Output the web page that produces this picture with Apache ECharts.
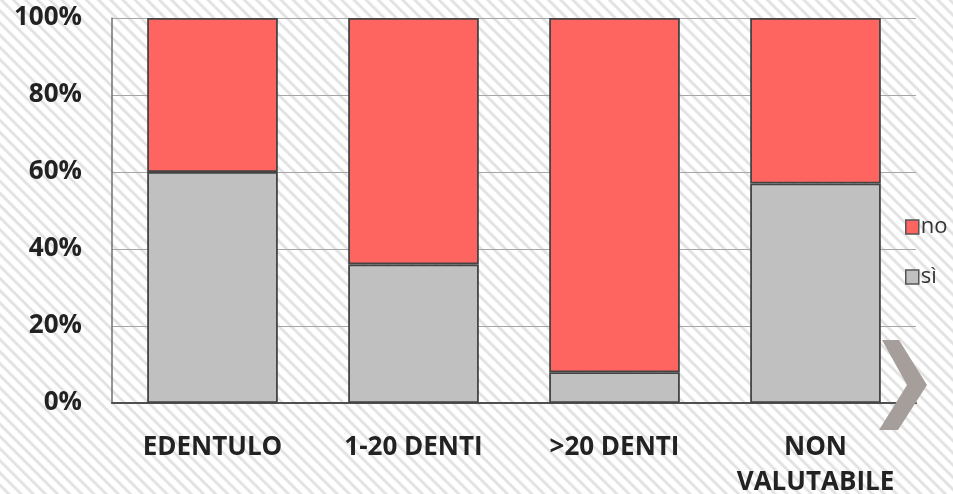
<!DOCTYPE html>
<html>
<head>
<meta charset="utf-8">
<script src="https://cdn.jsdelivr.net/npm/echarts@6/dist/echarts.min.js"></script>
<style>
  html, body { margin: 0; padding: 0; }
  #chart {
    width: 953px; height: 494px;
    background: repeating-linear-gradient(45deg,
      #ffffff 0px, #ffffff 4px, #e0e0e0 5.8px, #e0e0e0 6.6px, #ffffff 8.6px);
  }
</style>
</head>
<body>
<div id="chart"></div>
<script>
// Categories and percentage shares (stacked to 100%)
const categories = ['EDENTULO', '1-20 DENTI', '>20 DENTI', 'NON\nVALUTABILE'];
const siValues = [60, 36, 8, 57];
const noValues = [40, 64, 92, 43];
const yTicks = [0, 20, 40, 60, 80, 100];

const chart = echarts.init(document.getElementById('chart'), null, { renderer: 'canvas' });

const fontFamily = '"Open Sans", "DejaVu Sans", sans-serif';

chart.setOption({
  backgroundColor: 'transparent',
  animation: false,
  grid: { left: 112, right: 37, top: 18, bottom: 91, containLabel: false, outerBoundsMode: 'none' },
  legend: {
    orient: 'vertical',
    left: 900,
    top: 211,
    itemGap: 28,
    itemWidth: 13,
    itemHeight: 14,
    data: ['no', 'sì'],
    itemStyle: { borderColor: '#555', borderWidth: 1.5 },
    textStyle: { fontFamily, fontSize: 22, color: '#333', padding: [0, 0, 0, -3] },
    icon: 'rect'
  },
  xAxis: {
    type: 'category',
    data: categories,
    axisLine: { lineStyle: { color: '#505050', width: 2 } },
    axisTick: { show: false },
    axisLabel: {
      interval: 0,
      fontFamily, fontWeight: 'bold', fontSize: 26, color: '#222',
      margin: 27, lineHeight: 35
    }
  },
  yAxis: {
    type: 'value',
    min: yTicks[0],
    max: yTicks[yTicks.length - 1],
    interval: 20,
    axisLine: { show: true, lineStyle: { color: '#707070', width: 1.5 } },
    axisTick: { show: false },
    splitLine: { lineStyle: { color: '#a6a6a6', width: 1 } },
    axisLabel: {
      fontFamily, fontWeight: 'bold', fontSize: 26, color: '#222',
      margin: 30,
      formatter: v => v + '%'
    }
  },
  series: [
    {
      name: 'sì', type: 'bar', stack: 'tot', data: siValues,
      barWidth: '65%',
      itemStyle: { color: '#c0c0c0', borderColor: '#444', borderWidth: 1.8 }
    },
    {
      name: 'no', type: 'bar', stack: 'tot', data: noValues,
      barWidth: '65%',
      itemStyle: { color: '#fe6560', borderColor: '#444', borderWidth: 1.8 }
    }
  ],
  graphic: [
    {
      type: 'polygon',
      left: 879, top: 340,
      shape: { points: [[3, 0], [20, 0], [48, 45], [19, 90], [0, 90], [28, 45]] },
      style: { fill: '#a69e9a' },
      z: 10
    }
  ]
});
</script>
</body>
</html>
